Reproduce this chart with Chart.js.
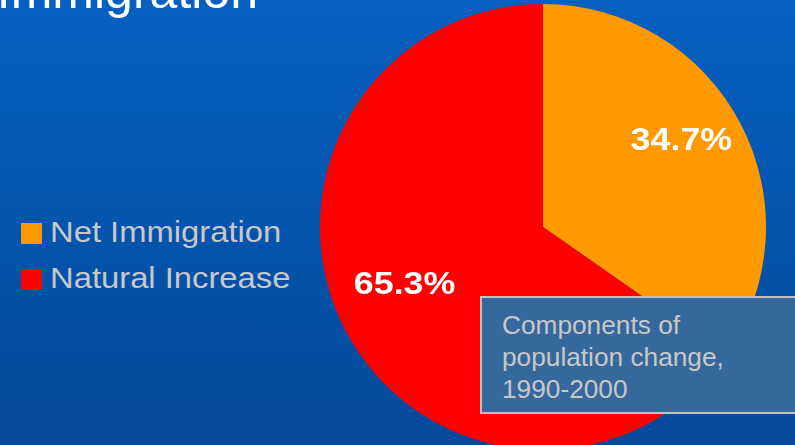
<!DOCTYPE html>
<html>
<head>
<meta charset="utf-8">
<script src="https://cdn.jsdelivr.net/npm/chart.js@4/dist/chart.umd.min.js"></script>
<style>
  html, body { margin: 0; padding: 0; }
  body {
    width: 795px; height: 445px; overflow: hidden; position: relative;
    background: linear-gradient(#0560c0, #05489a);
    font-family: "Liberation Sans", Arial, sans-serif;
  }
  #title {
    position: absolute; right: 537px; top: -38px;
    font-size: 50px; color: #ffffff; white-space: nowrap;
  }
  #legend { position: absolute; left: 21px; top: 215px; }
  .item { height: 46px; position: relative; }
  .box { position: absolute; left: 0; top: 8px; width: 21px; height: 21px; }
  .txt {
    position: absolute; left: 29px; top: 1px; font-size: 29px; color: #c8c8c8;
    white-space: nowrap; transform: scaleX(1.13); transform-origin: left;
  }
  #wrap { position: absolute; left: 320px; top: 4px; width: 446px; height: 446px; }
  #note {
    position: absolute; left: 480px; top: 296px; width: 330px; height: 118px;
    background: #36689b; border: 2px solid #c0c0c0; box-sizing: border-box;
    padding: 11px 0 0 20px; color: #c8c8c8; font-size: 25px; line-height: 32px;
  }
  #note span { display: inline-block; transform: scaleX(1.05); transform-origin: left; white-space: nowrap; }
</style>
</head>
<body>
<div id="title">Immigration</div>
<div id="legend"></div>
<div id="wrap"><canvas id="chart"></canvas></div>
<div id="note"><span>Components of<br>population change,<br>1990-2000</span></div>
<script>
const categories = ['Net Immigration', 'Natural Increase'];
const shares = [34.7, 65.3];
const sliceColors = ['#ff9900', '#ff0000'];

// legend built from the same arrays
const legendEl = document.querySelector('#legend');
categories.forEach((name, i) => {
  const row = document.createElement('div');
  row.className = 'item';
  row.innerHTML = `<div class="box" style="background:${sliceColors[i]}"></div><div class="txt">${name}</div>`;
  legendEl.appendChild(row);
});

const percentLabels = {
  id: 'percentLabels',
  afterDatasetsDraw(chart) {
    const ctx = chart.ctx;
    const meta = chart.getDatasetMeta(0);
    meta.data.forEach((arc, i) => {
      const p = arc.getProps(['x', 'y', 'startAngle', 'endAngle', 'outerRadius'], true);
      const mid = (p.startAngle + p.endAngle) / 2;
      const r = p.outerRadius * 0.7;
      const x = p.x + Math.cos(mid) * r;
      const y = p.y + Math.sin(mid) * r - 14;
      ctx.save();
      ctx.translate(x, y);
      ctx.scale(1.12, 1);
      ctx.font = 'bold 32px "Liberation Sans", Arial, sans-serif';
      ctx.fillStyle = '#ffffff';
      ctx.textAlign = 'center';
      ctx.textBaseline = 'middle';
      ctx.fillText(`${shares[i].toFixed(1)}%`, 0, 0);
      ctx.restore();
    });
  }
};

new Chart(document.getElementById('chart'), {
  type: 'pie',
  data: {
    labels: categories,
    datasets: [{
      data: shares,
      backgroundColor: sliceColors,
      borderWidth: 0
    }]
  },
  options: {
    responsive: true,
    maintainAspectRatio: false,
    animation: false,
    layout: { padding: 0 },
    plugins: {
      legend: { display: false },
      tooltip: { enabled: false }
    }
  },
  plugins: [percentLabels]
});
</script>
</body>
</html>
